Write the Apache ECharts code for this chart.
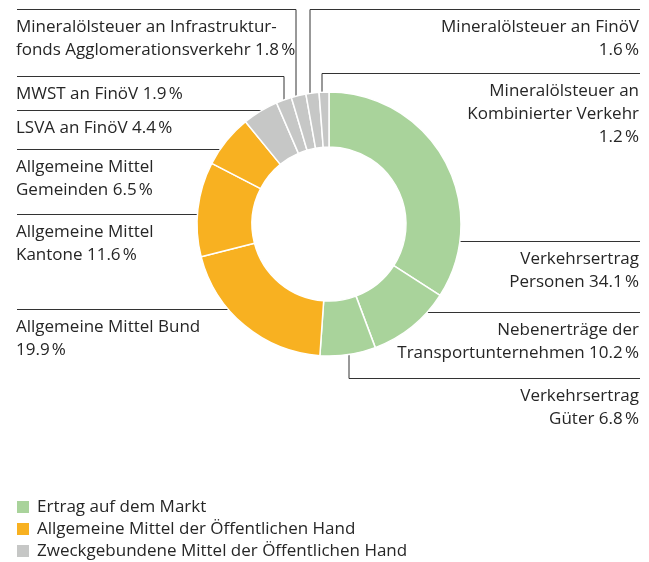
<!DOCTYPE html>
<html><head><meta charset="utf-8">
<script src="https://cdn.jsdelivr.net/npm/echarts@6/dist/echarts.min.js"></script>
<style>html,body{margin:0;padding:0;background:#fff}#c{width:649px;height:562px}</style>
</head><body><div id="c"></div>
<script>
// ---- data ----
const sliceLabels = [
  "Verkehrsertrag\nPersonen {v}",
  "Nebenerträge der\nTransportunternehmen {v}",
  "Verkehrsertrag\nGüter {v}",
  "Allgemeine Mittel Bund\n{v}",
  "Allgemeine Mittel\nKantone {v}",
  "Allgemeine Mittel\nGemeinden {v}",
  "LSVA an FinöV {v}",
  "MWST an FinöV {v}",
  "Mineralölsteuer an Infrastruktur-\nfonds Agglomerationsverkehr {v}",
  "Mineralölsteuer an FinöV\n{v}",
  "Mineralölsteuer an\nKombinierter Verkehr\n{v}"
];
const sliceValues = [34.1, 10.2, 6.8, 19.9, 11.6, 6.5, 4.4, 1.9, 1.8, 1.6, 1.2];
const sliceGroups = [0, 0, 0, 1, 1, 1, 2, 2, 2, 2, 2];
const groupNames = ["Ertrag auf dem Markt", "Allgemeine Mittel der Öffentlichen Hand", "Zweckgebundene Mittel der Öffentlichen Hand"];

// ---- style / layout ----
const groupColors = ["#a9d39b", "#f8b121", "#c6c7c6"];
const FONT = "'Open Sans', sans-serif";
const FS = 17;
const TXT = "#262626";
const CX = 329, CY = 224, R_IN = 77, R_OUT = 132;
const LEFT_X = 17, RIGHT_X = 640;
const leaders = [
  { side: 'r', y: 241 },
  { side: 'r', y: 312 },
  { side: 'r', y: 378, vx: 349 },
  { side: 'l', y: 309 },
  { side: 'l', y: 214 },
  { side: 'l', y: 149 },
  { side: 'l', y: 110 },
  { side: 'l', y: 76, vx: 284 },
  { side: 'l', y: 9, vx: 296 },
  { side: 'r', y: 9, vx: 310 },
  { side: 'r', y: 73, vx: 322 }
];

function fmt(v) { return v.toFixed(1) + "\u202f%"; }

const pieData = sliceValues.map((v, i) => ({
  name: sliceLabels[i].replace(/\n/g, ' ').replace(' {v}', ''),
  value: v,
  itemStyle: { color: groupColors[sliceGroups[i]] },
  label: { formatter: sliceLabels[i].replace('{v}', fmt(v)) }
}));

const groupData = groupNames.map((n, g) => ({
  name: n,
  value: sliceValues.reduce((s, v, i) => s + (sliceGroups[i] === g ? v : 0), 0),
  itemStyle: { color: groupColors[g] }
}));

const chart = echarts.init(document.getElementById('c'), null, { renderer: 'canvas' });
chart.setOption({
  backgroundColor: '#fff',
  animation: false,
  legend: {
    orient: 'vertical', left: 17, bottom: 0, padding: 0,
    itemWidth: 12, itemHeight: 12, itemGap: 0, icon: 'rect',
    selectedMode: false,
    data: groupNames,
    textStyle: { fontFamily: FONT, fontSize: FS, lineHeight: 22, color: TXT, padding: [0, 0, 0, 3] }
  },
  series: [{
    type: 'pie',
    center: [CX, CY],
    radius: [R_IN, R_OUT],
    startAngle: 90,
    clockwise: true,
    avoidLabelOverlap: false,
    silent: true,
    itemStyle: { borderColor: '#fff', borderWidth: 1.5 },
    label: {
      show: true, position: 'outside',
      fontFamily: FONT, fontSize: FS, lineHeight: 23, color: TXT
    },
    labelLine: { show: true, length: 10, length2: 10, smooth: false,
      lineStyle: { color: '#333', width: 1 } },
    labelLayout: function (p) {
      const L = leaders[p.dataIndex];
      const isL = L.side === 'l';
      let edge;
      if (L.vx !== undefined) {
        const d = Math.sqrt(R_OUT * R_OUT - (L.vx - CX) * (L.vx - CX));
        edge = [L.vx, L.y > CY ? CY + d : CY - d];
      } else {
        const d = Math.sqrt(R_OUT * R_OUT - (L.y - CY) * (L.y - CY));
        edge = [isL ? CX - d : CX + d, L.y];
      }
      const end = [isL ? LEFT_X : RIGHT_X, L.y + 0.5];
      const mid = [edge[0], L.y + 0.5];
      return {
        x: isL ? LEFT_X - 1 : RIGHT_X - 1,
        y: L.y + 6.5,
        align: isL ? 'left' : 'right',
        verticalAlign: 'top',
        labelLinePoints: [edge, mid, end]
      };
    },
    data: pieData
  }, {
    type: 'pie',
    center: [CX, CY],
    radius: [0, 0],
    silent: true,
    label: { show: false },
    labelLine: { show: false },
    data: groupData
  }]
});
</script>
</body></html>
